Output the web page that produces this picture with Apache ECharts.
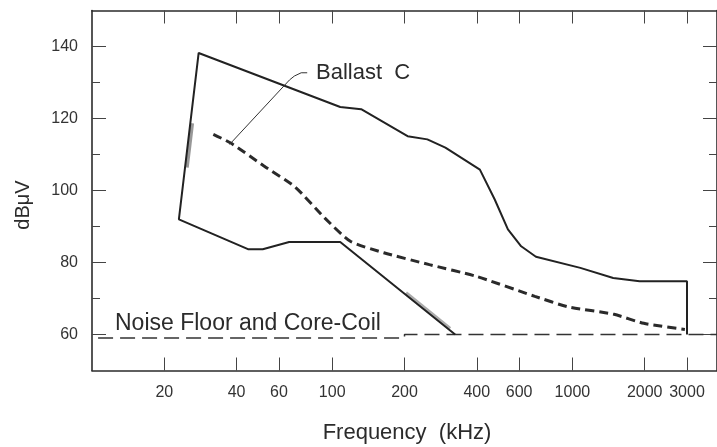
<!DOCTYPE html>
<html>
<head>
<meta charset="utf-8">
<script src="https://cdn.jsdelivr.net/npm/echarts@6.0.0/dist/echarts.min.js"></script>
<style>
html,body{margin:0;padding:0;background:#fff;}
#chart{width:717px;height:447px;}
</style>
</head>
<body>
<div id="chart"></div>
<script>
// ---- data (frequency in kHz, level in dBuV) ----
const xTickValues = [20, 40, 60, 100, 200, 400, 600, 1000, 2000, 3000];
const yMajorTicks = [60, 80, 100, 120, 140];
const yMinorTicks = [70, 90, 110, 130];

const envelopeFreq = [325, 108, 66.2, 51.4, 44.6, 23, 27.8, 108, 132, 206, 249, 296, 412, 475, 539, 612, 705, 1079, 1479, 1905, 3000, 3000];
const envelopeDb   = [60, 85.7, 85.7, 83.7, 83.7, 92, 138.2, 123.2, 122.6, 115.1, 114.2, 111.9, 105.8, 97.5, 89.2, 84.5, 81.6, 78.5, 75.7, 74.8, 74.8, 60];

const ballastFreq = [32, 38, 52, 70, 93, 119, 164, 254, 396, 698, 958, 1490, 1983, 2940];
const ballastDb   = [115.6, 113.1, 106.8, 101, 92.4, 85.9, 82.7, 79.4, 76.2, 70.6, 67.7, 65.6, 63.1, 61.4];

const noiseFreq = [10.6, 200, 200, 4000];
const noiseDb   = [59, 59, 60, 60];

const leaderFreq = [78.7, 74.3, 69.6, 66.4, 37.4];
const leaderDb   = [132.7, 132.7, 131.8, 130.7, 112.8];

// stippled shading along the envelope edges (print texture)
const shadeLeftFreq = [24.8, 25.5, 26.1];
const shadeLeftDb   = [106.4, 113, 118.7];
const shadeLowFreq  = [203, 310];
const shadeLowDb    = [71.6, 61.7];

const xMin = 10, xMax = 4000, yMin = 50, yMax = 150;

// ---- build ----
const L = v => Math.log10(v);
const pairs = (fx, fy) => fx.map((f, i) => [L(f), fy[i]]);
const FONT = '"Liberation Sans", Arial, Helvetica, sans-serif';
const INK = '#2b2b2b';

function xAxisDef(pos, showLabel) {
  return {
    type: 'value', position: pos, min: L(xMin), max: L(xMax),
    axisLine: { show: true, onZero: false, lineStyle: { color: INK, width: 1.6 } },
    splitLine: { show: false },
    axisTick: { show: true, inside: true, length: 13, customValues: xTickValues.map(L), lineStyle: { color: '#444', width: 1 } },
    axisLabel: {
      show: showLabel, customValues: xTickValues.map(L), margin: 14,
      fontFamily: FONT, fontSize: 16, color: '#333',
      formatter: v => String(Math.round(Math.pow(10, v)))
    }
  };
}
function yAxisDef(pos, ticks, len, showLabel, showLine) {
  return {
    type: 'value', position: pos, min: yMin, max: yMax,
    axisLine: { show: showLine, onZero: false, lineStyle: { color: INK, width: 1.6 } },
    splitLine: { show: false },
    axisTick: { show: true, inside: true, length: len, customValues: ticks, lineStyle: { color: '#444', width: 1 } },
    axisLabel: {
      show: showLabel, customValues: ticks, margin: 14,
      fontFamily: FONT, fontSize: 16, color: '#333'
    }
  };
}

const chart = echarts.init(document.getElementById('chart'), null, { renderer: 'canvas' });
chart.setOption({
  animation: false,
  backgroundColor: '#fff',
  grid: { left: 92, top: 10.5, width: 633, height: 360 },
  xAxis: [xAxisDef('bottom', true), xAxisDef('top', false)],
  yAxis: [
    yAxisDef('left', yMajorTicks, 14, true, true),
    yAxisDef('left', yMinorTicks, 8, false, false),
    yAxisDef('right', yMajorTicks, 14, false, true),
    yAxisDef('right', yMinorTicks, 8, false, false)
  ],
  series: [
    {
      name: 'Envelope', type: 'line', xAxisIndex: 0, yAxisIndex: 0,
      data: pairs(envelopeFreq, envelopeDb), showSymbol: false, symbol: 'none',
      lineStyle: { color: '#222', width: 2 }, z: 3
    },
    {
      name: 'shadeLeft', type: 'line', xAxisIndex: 0, yAxisIndex: 0,
      data: pairs(shadeLeftFreq, shadeLeftDb), showSymbol: false, symbol: 'none',
      lineStyle: { color: '#444', width: 4, opacity: 0.55 }, z: 2
    },
    {
      name: 'shadeLow', type: 'line', xAxisIndex: 0, yAxisIndex: 0,
      data: pairs(shadeLowFreq, shadeLowDb), showSymbol: false, symbol: 'none',
      lineStyle: { color: '#444', width: 3, opacity: 0.45 }, z: 2
    },
    {
      name: 'Ballast C', type: 'line', xAxisIndex: 0, yAxisIndex: 0,
      data: pairs(ballastFreq, ballastDb), showSymbol: false, symbol: 'none', smooth: 0.2,
      lineStyle: { color: '#2a2a2a', width: 3, type: [9, 5] }, z: 3
    },
    {
      name: 'Noise Floor and Core-Coil', type: 'line', xAxisIndex: 0, yAxisIndex: 0,
      data: pairs(noiseFreq, noiseDb), showSymbol: false, symbol: 'none',
      lineStyle: { color: '#333', width: 1.5, type: [15, 7] }, z: 2
    },
    {
      name: 'leader', type: 'lines', coordinateSystem: 'cartesian2d', xAxisIndex: 0, yAxisIndex: 0,
      polyline: true, symbol: ['none', 'arrow'], symbolSize: 7,
      lineStyle: { color: '#333', width: 1, opacity: 1 },
      data: [{ coords: pairs(leaderFreq, leaderDb) }], z: 4
    }
  ],
  graphic: [
    { type: 'text', style: { text: 'Ballast  C', x: 316, y: 73, font: '22px ' + FONT, fill: '#2b2b2b', align: 'left', verticalAlign: 'middle' } },
    { type: 'text', style: { text: 'Noise Floor and Core-Coil', x: 115, y: 324, font: '23px ' + FONT, fill: '#2b2b2b', align: 'left', verticalAlign: 'middle' } },
    { type: 'text', style: { text: 'Frequency  (kHz)', x: 407, y: 433, font: '22px ' + FONT, fill: '#2b2b2b', align: 'center', verticalAlign: 'middle' } },
    { type: 'text', x: 23, y: 205, rotation: Math.PI / 2, style: { text: 'dBμV', x: 0, y: 0, font: '20px ' + FONT, fill: '#2b2b2b', align: 'center', verticalAlign: 'middle' } }
  ]
});
</script>
</body>
</html>
